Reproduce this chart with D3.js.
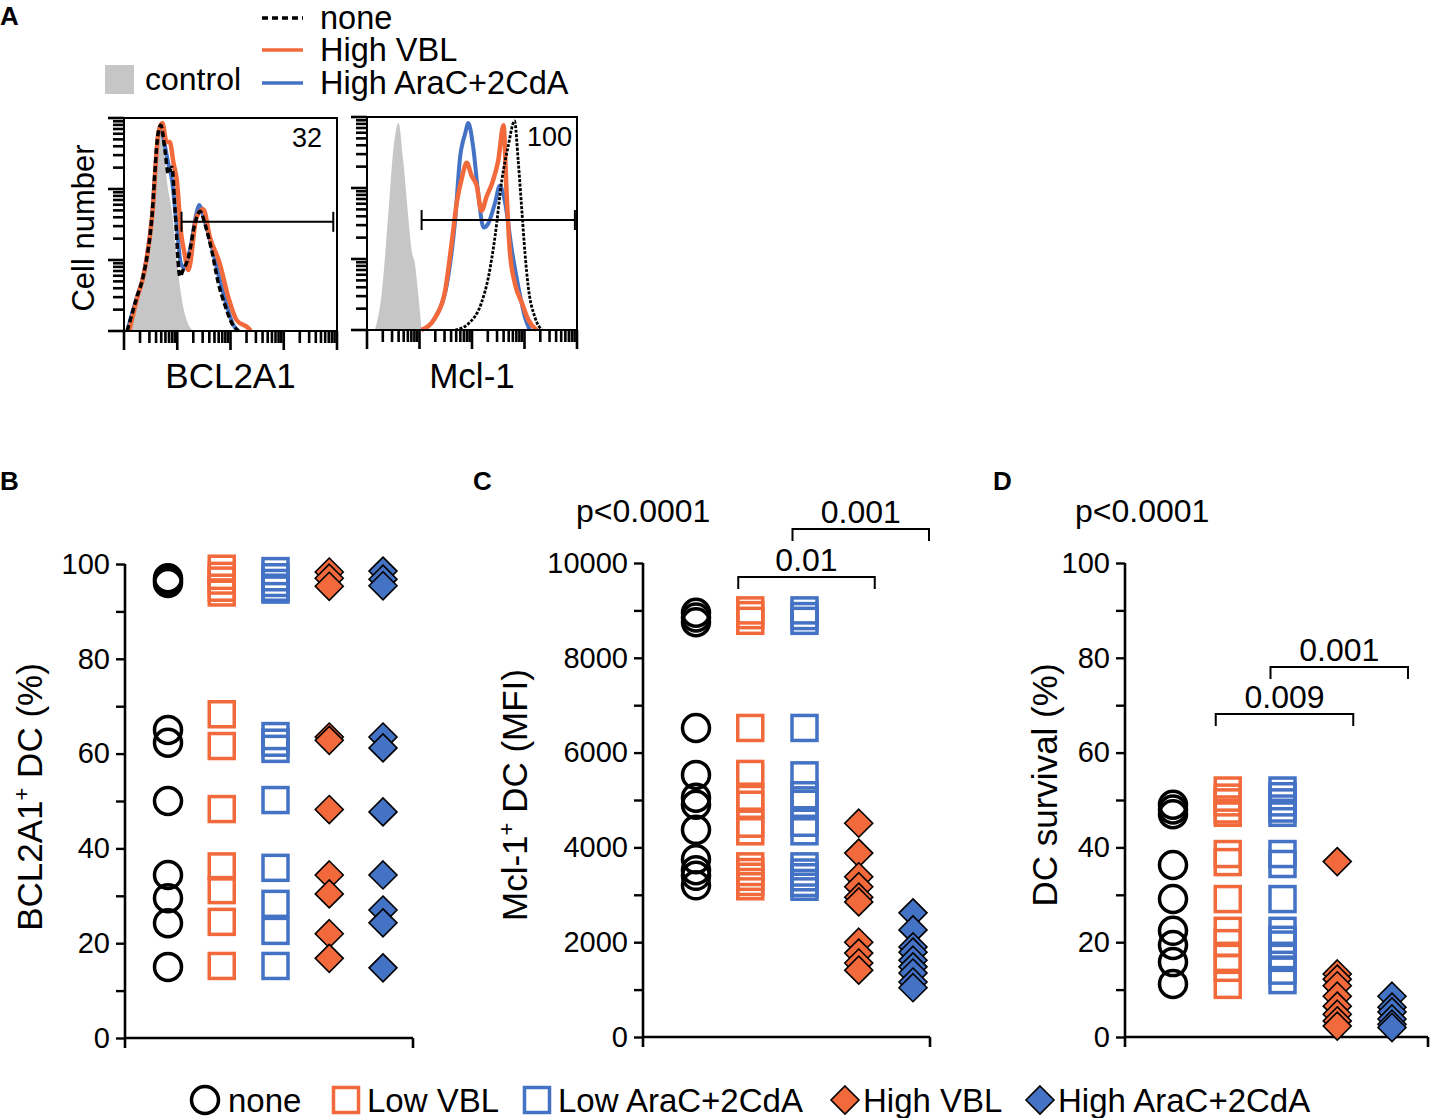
<!DOCTYPE html>
<html>
<head>
<meta charset="utf-8">
<script src="https://cdn.jsdelivr.net/npm/d3@7"></script>
<style>
body { margin: 0; background: #fff; }
text { font-family: "Liberation Sans", Arial, sans-serif; fill: #000; }
</style>
</head>
<body>
<div id="chart"></div>
<script>
const W = 1432, H = 1118;
const orange = "#f26a3b", blue = "#4472c4", grey = "#c6c6c6";

// groups used in panels B-D
const groups = ["none", "Low VBL", "Low AraC+2CdA", "High VBL", "High AraC+2CdA"];

// panel A histograms, [decade, % of max]
const bclControl = [[0.08,0],[0.17,10],[0.36,26],[0.52,53],[0.61,81],[0.69,98],[0.75,88],[0.8,73],[0.9,57],[0.99,34],[1.08,16],[1.18,5],[1.3,0]];
const bclNone = [[0.06,0],[0.24,16],[0.36,26],[0.52,53],[0.64,94],[0.69,98],[0.77,86],[0.83,75],[0.9,78],[0.96,57],[1.05,26],[1.11,29],[1.21,35],[1.33,51],[1.43,57],[1.52,51],[1.65,38],[1.77,23],[1.9,12],[2.02,4],[2.15,0]];
const bclHighVBL = [[0.1,0],[0.24,15],[0.38,28],[0.53,55],[0.65,95],[0.72,99],[0.8,90],[0.86,90],[0.93,80],[0.99,72],[1.08,45],[1.13,38],[1.21,29],[1.36,54],[1.49,58],[1.61,45],[1.8,32],[1.96,16],[2.12,5],[2.33,1.5],[2.38,0]];
const bclHighAraC = [[0.06,0],[0.24,16],[0.36,26],[0.52,53],[0.64,93],[0.69,97],[0.77,88],[0.83,80],[0.9,72],[0.99,50],[1.07,32],[1.14,30],[1.25,40],[1.36,56],[1.41,60],[1.52,52],[1.65,40],[1.8,24],[1.93,12],[2.05,3],[2.15,0]];
const mclControl = [[0.15,0],[0.28,17.5],[0.41,57],[0.5,86],[0.6,99],[0.69,81],[0.79,53],[0.85,38],[0.91,32],[0.98,16],[1.04,0]];
const mclNone = [[1.68,0],[1.93,3],[2.18,13],[2.31,25],[2.44,45],[2.57,72],[2.69,88],[2.81,100],[2.88,81],[2.95,57],[3.01,36.5],[3.07,21],[3.2,6],[3.33,0]];
const mclHighVBL = [[1.04,0],[1.3,6],[1.49,19],[1.61,41],[1.71,61],[1.8,72],[1.9,80],[1.99,74],[2.09,69],[2.18,57],[2.28,64],[2.38,70],[2.5,81],[2.6,98],[2.66,65],[2.72,38],[2.82,22],[2.95,13],[3.07,5],[3.23,0]];
const mclHighAraC = [[1.04,0],[1.3,6],[1.55,26],[1.68,53],[1.77,82],[1.87,94],[1.93,99],[2.02,88],[2.12,65],[2.22,49],[2.31,51],[2.44,61],[2.53,69],[2.63,61],[2.76,38],[2.88,21],[3.01,6],[3.1,0]];
const bclGate = [1.08, 3.93, 52], bclGateLabel = "32";
const mclGate = [1.04, 3.96, 52.6], mclGateLabel = "100";

// panel B: BCL2A1+ DC (%)
const bclPct = [
  [97, 96.5, 96, 65, 62.3, 50, 34.4, 29.5, 24.2, 15],
  [99, 97.5, 96.5, 95, 94, 68.3, 61.6, 48.3, 36.2, 31.2, 24.5, 15.2],
  [98.5, 97.2, 96, 95, 94.6, 63.7, 62.3, 61, 50.2, 35.9, 28.3, 22.6, 15.2],
  [98.3, 97, 95.3, 63.5, 62.8, 48.2, 34.4, 30.4, 22, 16.8],
  [98.5, 96.8, 95.4, 63.5, 61.2, 47.7, 34.4, 27, 24.3, 14.8]
];
// panel C: Mcl-1+ DC (MFI)
const mclMfi = [
  [8950, 8850, 8750, 6520, 5530, 5050, 4900, 4370, 3750, 3520, 3400, 3200],
  [9000, 8900, 8780, 6520, 5550, 5070, 4900, 4500, 4340, 3600, 3480, 3380, 3270, 3180],
  [9000, 8880, 8780, 6520, 5520, 5100, 4920, 4520, 4340, 3600, 3470, 3370, 3250, 3170],
  [4510, 3880, 3380, 3170, 2950, 2850, 2000, 1770, 1560, 1410],
  [2620, 2260, 1900, 1790, 1620, 1480, 1350, 1160, 1040]
];
// panel D: DC survival (%)
const survival = [
  [49, 48, 47, 36.3, 29.1, 22.4, 19.4, 15.8, 11.2],
  [52, 50.5, 49.5, 48, 47.3, 38.6, 36.9, 29.1, 22.4, 19.8, 16.7, 14.6, 11],
  [52, 50.8, 49.5, 48.2, 47.3, 38.6, 36.5, 29.1, 22.4, 20.5, 19.5, 16.7, 14, 12],
  [37, 13.3, 12.2, 10.8, 8.6, 6.5, 4.8, 3.4, 2.3],
  [8.6, 6.3, 5.3, 3.8, 2.7, 2]
];
const mclTests = [["0.01", 1, 3], ["0.001", 2, 4]];
const survTests = [["0.009", 1, 3], ["0.001", 2, 4]];

const styles = [
  {shape: "circle", color: "#000"},
  {shape: "square", color: orange},
  {shape: "square", color: blue},
  {shape: "diamond", color: orange},
  {shape: "diamond", color: blue}
];

const svg = d3.select("#chart").append("svg").attr("width", W).attr("height", H);

function label(x, y, s, size, anchor, weight) {
  return svg.append("text").attr("x", x).attr("y", y)
    .attr("font-size", size).attr("text-anchor", anchor || "start")
    .attr("font-weight", weight || "normal").text(s);
}

function marker(g, st, cx, cy) {
  if (st.shape == "circle") {
    g.append("circle").attr("cx", cx).attr("cy", cy).attr("r", 13.5)
      .attr("fill", "none").attr("stroke", st.color).attr("stroke-width", 3.5);
  } else if (st.shape == "square") {
    g.append("rect").attr("x", cx - 12.5).attr("y", cy - 12.5).attr("width", 25).attr("height", 25)
      .attr("fill", "none").attr("stroke", st.color).attr("stroke-width", 3.5);
  } else {
    g.append("path").attr("d", `M${cx},${cy-14}L${cx+14},${cy}L${cx},${cy+14}L${cx-14},${cy}Z`)
      .attr("fill", st.color).attr("stroke", "#000").attr("stroke-width", 1.6);
  }
}

// ---- panel A ----
function histogram(box, curves, gate, gateLabel, xTitle) {
  const g = svg.append("g");
  const x = d3.scaleLinear().domain([0, 4]).range([box.left, box.right]);
  const y = d3.scaleLinear().domain([0, 100]).range([box.bottom, box.peak]);
  const line = d3.line().x(d => x(d[0])).y(d => y(d[1])).curve(d3.curveMonotoneX);
  const area = d3.area().x(d => x(d[0])).y0(y(0)).y1(d => y(d[1])).curve(d3.curveMonotoneX);

  g.append("path").datum(curves.control).attr("d", area).attr("fill", grey);
  g.append("path").datum(curves.araC).attr("d", line).attr("fill", "none")
    .attr("stroke", blue).attr("stroke-width", 4);
  g.append("path").datum(curves.vbl).attr("d", line).attr("fill", "none")
    .attr("stroke", orange).attr("stroke-width", 4.5);
  g.append("path").datum(curves.none).attr("d", line).attr("fill", "none")
    .attr("stroke", "#000").attr("stroke-width", box.dashW).attr("stroke-dasharray", box.dash);

  // frame
  g.append("rect").attr("x", box.left).attr("y", box.top)
    .attr("width", box.right - box.left).attr("height", box.bottom - box.top)
    .attr("fill", "none").attr("stroke", "#000").attr("stroke-width", 2);

  // log ticks
  const xl = d3.scaleLog().domain([1, 1e4]).range([box.left, box.right]);
  const yl = d3.scaleLog().domain([1, 1e3]).range([box.bottom, box.top]);
  const xt = [], yt = [];
  for (let n = 0; n < 4; n++) for (let k = 1; k < 10; k++) xt.push(k * Math.pow(10, n));
  xt.push(1e4);
  for (let n = 0; n < 3; n++) for (let k = 1; k < 10; k++) yt.push(k * Math.pow(10, n));
  yt.push(1e3);
  const major = v => Math.abs(Math.log10(v) - Math.round(Math.log10(v))) < 1e-9;
  g.selectAll(".xt").data(xt).enter().append("line")
    .attr("x1", d => xl(d)).attr("x2", d => xl(d))
    .attr("y1", box.bottom).attr("y2", d => box.bottom + (major(d) ? 19 : 12))
    .attr("stroke", "#000").attr("stroke-width", 2.6);
  g.selectAll(".yt").data(yt).enter().append("line")
    .attr("y1", d => yl(d)).attr("y2", d => yl(d))
    .attr("x1", box.left).attr("x2", d => box.left - (major(d) ? 16 : 11))
    .attr("stroke", "#000").attr("stroke-width", 2.6);

  // gate
  const gy = y(gate[2]);
  g.append("line").attr("x1", x(gate[0])).attr("x2", x(gate[1])).attr("y1", gy).attr("y2", gy)
    .attr("stroke", "#000").attr("stroke-width", 2);
  [gate[0], gate[1]].forEach(v => g.append("line").attr("x1", x(v)).attr("x2", x(v))
    .attr("y1", gy - 10).attr("y2", gy + 10).attr("stroke", "#000").attr("stroke-width", 2));

  label(box.right - box.labelPad, box.top + 29, gateLabel, 27, "end");
  label((box.left + box.right) / 2, 388, xTitle, 35, "middle");
}

histogram({left: 124, right: 337, top: 118, bottom: 331, peak: 121, dash: "6 3", dashW: 3.5, labelPad: 15},
  {control: bclControl, none: bclNone, vbl: bclHighVBL, araC: bclHighAraC}, bclGate, bclGateLabel, "BCL2A1");
histogram({left: 367, right: 577, top: 117, bottom: 330, peak: 121, dash: "3 1.5", dashW: 2.8, labelPad: 5},
  {control: mclControl, none: mclNone, vbl: mclHighVBL, araC: mclHighAraC}, mclGate, mclGateLabel, "Mcl-1");

label(0, 0, "Cell number", 31, "middle").attr("transform", "translate(94,228) rotate(-90)");

// legend A
svg.append("rect").attr("x", 105).attr("y", 65).attr("width", 29).attr("height", 29).attr("fill", grey);
label(145, 90, "control", 32);
const legA = [["none", "#000", "6 4", 29], ["High VBL", orange, null, 61], ["High AraC+2CdA", blue, null, 94]];
legA.forEach(d => {
  svg.append("line").attr("x1", 262).attr("x2", 303).attr("y1", d[3] - 11).attr("y2", d[3] - 11)
    .attr("stroke", d[1]).attr("stroke-width", 3.5).attr("stroke-dasharray", d[2]);
  label(320, d[3], d[0], 32.5);
});

// ---- panels B, C, D ----
function scatterPanel(p) {
  const g = svg.append("g");
  const y = d3.scaleLinear().domain([0, p.max]).range([p.bottom, p.top]);
  const x = d3.scalePoint().domain(groups).range([p.first, p.last]);

  const ya = g.append("g").attr("transform", `translate(${p.left},0)`)
    .call(d3.axisLeft(y).tickValues(d3.range(0, p.max + 1, p.major))
      .tickSize(9).tickSizeOuter(0).tickPadding(6).tickFormat(d3.format("d")));
  const ym = g.append("g").attr("transform", `translate(${p.left},0)`)
    .call(d3.axisLeft(y).tickValues(d3.range(p.major / 2, p.max, p.major)).tickSize(9).tickSizeOuter(0).tickFormat(""));
  [ya, ym].forEach(a => {
    a.select(".domain").remove();
    a.selectAll(".tick line").attr("stroke-width", 2.4);
    a.selectAll("text").attr("font-size", 29).attr("font-family", "Liberation Sans, Arial, sans-serif");
  });
  g.append("line").attr("x1", p.left).attr("x2", p.left).attr("y1", p.top).attr("y2", p.bottom + 10)
    .attr("stroke", "#000").attr("stroke-width", 2.6);
  g.append("line").attr("x1", p.left).attr("x2", p.right).attr("y1", p.bottom).attr("y2", p.bottom)
    .attr("stroke", "#000").attr("stroke-width", 2.6);
  g.append("line").attr("x1", p.right).attr("x2", p.right).attr("y1", p.bottom).attr("y2", p.bottom + 10)
    .attr("stroke", "#000").attr("stroke-width", 2.6);

  p.data.forEach((vals, i) => {
    vals.forEach(v => marker(g, styles[i], x(groups[i]), y(v)));
  });

  const t = label(0, 0, p.title, 35, "middle").attr("transform", `translate(${p.titleX},${p.titleY}) rotate(-90)`);
  if (p.sup) {
    t.text(null);
    t.append("tspan").text(p.title);
    t.append("tspan").attr("font-size", 22).attr("dy", -13).text("+");
    t.append("tspan").attr("dy", 13).text(p.sup);
  }
  label(p.letterX, 490, p.letter, 26, "start", "bold");

  if (p.overall) label(p.overallX, 522, p.overall, 32);
  (p.tests || []).forEach((tst, k) => {
    const x1 = x(groups[tst[1]]) - 12, x2 = x(groups[tst[2]]) + 16;
    const by = p.bracketY[k];
    g.append("path").attr("d", `M${x1},${by + 12}V${by}H${x2}V${by + 12}`)
      .attr("fill", "none").attr("stroke", "#000").attr("stroke-width", 2);
    label((x1 + x2) / 2, by - 6, tst[0], 32, "middle");
  });
}

scatterPanel({left: 125, right: 413, top: 564, bottom: 1038, first: 168, last: 383,
  max: 100, major: 20, data: bclPct, title: "BCL2A1", sup: " DC (%)", titleX: 42, titleY: 797,
  letter: "B", letterX: 0});
scatterPanel({left: 643, right: 930, top: 563, bottom: 1037, first: 696, last: 913,
  max: 10000, major: 2000, data: mclMfi, title: "Mcl-1", sup: " DC (MFI)", titleX: 527, titleY: 795,
  letter: "C", letterX: 473, overall: "p<0.0001", overallX: 576, tests: mclTests, bracketY: [577, 529]});
scatterPanel({left: 1125, right: 1428, top: 563, bottom: 1037, first: 1173, last: 1392,
  max: 100, major: 20, data: survival, title: "DC survival (%)", titleX: 1057, titleY: 785,
  letter: "D", letterX: 993, overall: "p<0.0001", overallX: 1075, tests: survTests, bracketY: [714, 667]});

label(0, 25, "A", 26, "start", "bold");

// bottom legend
const legX = [[205, 228], [346, 367], [537, 558], [845, 863], [1040, 1058]];
const lg = svg.append("g");
groups.forEach((name, i) => {
  marker(lg, styles[i], legX[i][0], 1100);
  label(legX[i][1], 1112, name, 33);
});
</script>
</body>
</html>
